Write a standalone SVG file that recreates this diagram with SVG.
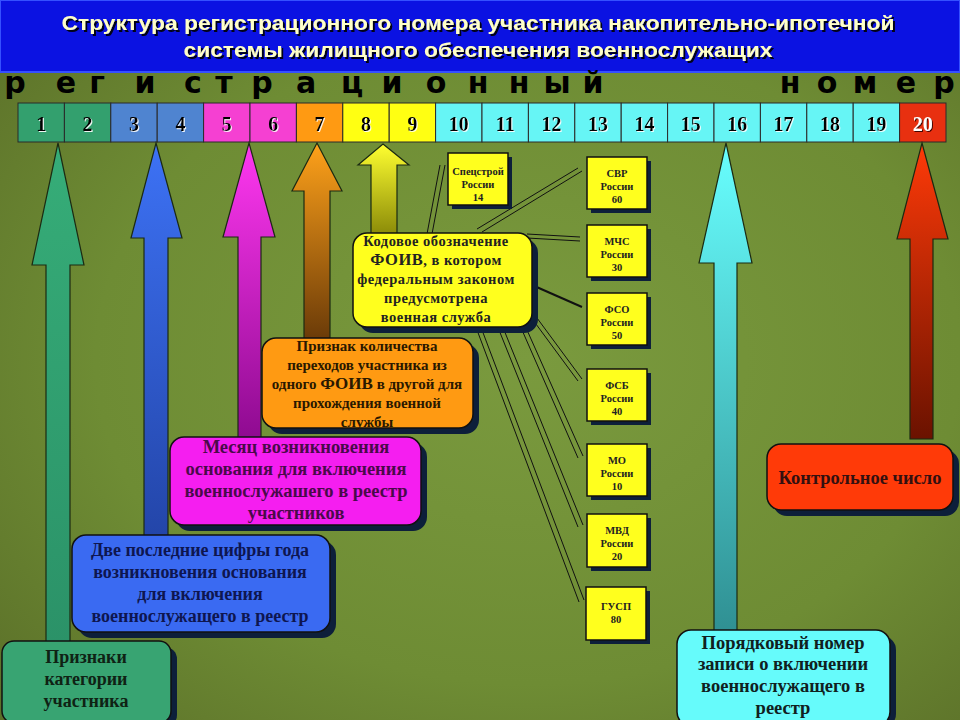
<svg xmlns="http://www.w3.org/2000/svg" width="960" height="720" viewBox="0 0 960 720">
<defs>
<radialGradient id="bg" cx="0.55" cy="0.5" r="0.75">
<stop offset="0" stop-color="#7a9a3e"/>
<stop offset="0.6" stop-color="#6e8c34"/>
<stop offset="1" stop-color="#5a6e28"/>
</radialGradient>
<linearGradient id="gGreen" x1="0" y1="0" x2="0" y2="1"><stop offset="0" stop-color="#36ad78"/><stop offset="1" stop-color="#2b9268"/></linearGradient>
<linearGradient id="gBlue" x1="0" y1="0" x2="0" y2="1"><stop offset="0" stop-color="#3d72f5"/><stop offset="1" stop-color="#2345a8"/></linearGradient>
<linearGradient id="gMag" x1="0" y1="0" x2="0" y2="1"><stop offset="0" stop-color="#ff38f0"/><stop offset="1" stop-color="#8e0a90"/></linearGradient>
<linearGradient id="gOr" x1="0" y1="0" x2="0" y2="1"><stop offset="0" stop-color="#ffa21a"/><stop offset="1" stop-color="#6a3a08"/></linearGradient>
<linearGradient id="gYel" x1="0" y1="0" x2="0" y2="1"><stop offset="0" stop-color="#ffff30"/><stop offset="1" stop-color="#8a8a08"/></linearGradient>
<linearGradient id="gCyan" x1="0" y1="0" x2="0" y2="1"><stop offset="0" stop-color="#68ffff"/><stop offset="1" stop-color="#2f8f92"/></linearGradient>
<linearGradient id="gRed" x1="0" y1="0" x2="0" y2="1"><stop offset="0" stop-color="#ff3a08"/><stop offset="1" stop-color="#6a1200"/></linearGradient>
<filter id="tshadow" x="-5%" y="-30%" width="110%" height="160%"><feDropShadow dx="2" dy="2" stdDeviation="0.4" flood-color="#000" flood-opacity="0.9"/></filter>
<filter id="wshadow" x="-30%" y="-30%" width="160%" height="160%"><feDropShadow dx="1" dy="1" stdDeviation="0.2" flood-color="#fff" flood-opacity="0.9"/></filter>
<filter id="dshadow" x="-30%" y="-30%" width="160%" height="160%"><feDropShadow dx="1" dy="1" stdDeviation="0.2" flood-color="#300" flood-opacity="0.9"/></filter>
<style>
.title{font-family:"Liberation Sans",Arial,sans-serif;font-weight:bold;font-size:20.5px;text-anchor:middle;fill:#ffffc8;filter:url(#tshadow)}
.letters{font-family:"DejaVu Sans","Liberation Sans",sans-serif;font-weight:bold;font-size:30px;fill:#000;text-anchor:middle}
.cell{stroke:#2a2a2a;stroke-width:1}
.num{font-family:"Liberation Serif","Times New Roman",serif;font-weight:bold;font-size:20px;text-anchor:middle;fill:#000;filter:url(#wshadow)}
.num20{font-family:"Liberation Serif","Times New Roman",serif;font-weight:bold;font-size:20px;text-anchor:middle;fill:#fff;filter:url(#dshadow)}
.arrow{stroke:#1b2a12;stroke-width:1.2}
.shadow{fill:#0d1f3a}
.box{stroke:#111;stroke-width:1.5}
.t{font-family:"Liberation Serif","Times New Roman",serif;font-weight:bold;text-anchor:middle}
.sm{font-family:"Liberation Serif","Times New Roman",serif;font-weight:bold;font-size:10.5px;text-anchor:middle;fill:#222}
.ln{stroke:#111;stroke-width:1;fill:none}
</style>
</defs>
<rect width="960" height="720" fill="url(#bg)"/>
<g id="title">
<rect x="0" y="0" width="960" height="72" fill="#0b12e2" stroke="#3550ff" stroke-width="2"/>
<text class="title" x="478" y="30" textLength="833" lengthAdjust="spacingAndGlyphs">Структура регистрационного номера участника накопительно-ипотечной</text>
<text class="title" x="478" y="57" textLength="589" lengthAdjust="spacingAndGlyphs">системы жилищного обеспечения военнослужащих</text>
</g>
<g id="heading-letters">
<text class="letters" y="93" x="15 66 97 145 193 224 262 306 352 392 436 478 519 557 593">регистрационный</text>
<text class="letters" y="93" x="790 827 865 906 944">номер</text>
</g>
<g id="number-row">
<g id="cell-1"><rect class="cell" x="18" y="103" width="46.4" height="39" fill="#33a06e"/><text class="num" x="41.2" y="131">1</text></g>
<g id="cell-2"><rect class="cell" x="64.4" y="103" width="46.4" height="39" fill="#33a06e"/><text class="num" x="87.6" y="131">2</text></g>
<g id="cell-3"><rect class="cell" x="110.8" y="103" width="46.4" height="39" fill="#4f84d0"/><text class="num" x="134" y="131">3</text></g>
<g id="cell-4"><rect class="cell" x="157.2" y="103" width="46.4" height="39" fill="#4f84d0"/><text class="num" x="180.4" y="131">4</text></g>
<g id="cell-5"><rect class="cell" x="203.6" y="103" width="46.4" height="39" fill="#f540d2"/><text class="num" x="226.8" y="131">5</text></g>
<g id="cell-6"><rect class="cell" x="250" y="103" width="46.4" height="39" fill="#f540d2"/><text class="num" x="273.2" y="131">6</text></g>
<g id="cell-7"><rect class="cell" x="296.4" y="103" width="46.4" height="39" fill="#ff9a12"/><text class="num" x="319.6" y="131">7</text></g>
<g id="cell-8"><rect class="cell" x="342.8" y="103" width="46.4" height="39" fill="#ffff12"/><text class="num" x="366" y="131">8</text></g>
<g id="cell-9"><rect class="cell" x="389.2" y="103" width="46.4" height="39" fill="#ffff12"/><text class="num" x="412.4" y="131">9</text></g>
<g id="cell-10"><rect class="cell" x="435.6" y="103" width="46.4" height="39" fill="#66f5f5"/><text class="num" x="458.8" y="131">10</text></g>
<g id="cell-11"><rect class="cell" x="482" y="103" width="46.4" height="39" fill="#66f5f5"/><text class="num" x="505.2" y="131">11</text></g>
<g id="cell-12"><rect class="cell" x="528.4" y="103" width="46.4" height="39" fill="#66f5f5"/><text class="num" x="551.6" y="131">12</text></g>
<g id="cell-13"><rect class="cell" x="574.8" y="103" width="46.4" height="39" fill="#66f5f5"/><text class="num" x="598" y="131">13</text></g>
<g id="cell-14"><rect class="cell" x="621.2" y="103" width="46.4" height="39" fill="#66f5f5"/><text class="num" x="644.4" y="131">14</text></g>
<g id="cell-15"><rect class="cell" x="667.6" y="103" width="46.4" height="39" fill="#66f5f5"/><text class="num" x="690.8" y="131">15</text></g>
<g id="cell-16"><rect class="cell" x="714" y="103" width="46.4" height="39" fill="#66f5f5"/><text class="num" x="737.2" y="131">16</text></g>
<g id="cell-17"><rect class="cell" x="760.4" y="103" width="46.4" height="39" fill="#66f5f5"/><text class="num" x="783.6" y="131">17</text></g>
<g id="cell-18"><rect class="cell" x="806.8" y="103" width="46.4" height="39" fill="#66f5f5"/><text class="num" x="830" y="131">18</text></g>
<g id="cell-19"><rect class="cell" x="853.2" y="103" width="46.4" height="39" fill="#66f5f5"/><text class="num" x="876.4" y="131">19</text></g>
<g id="cell-20"><rect class="cell" x="899.6" y="103" width="46.4" height="39" fill="#e83010"/><text class="num20" x="922.8" y="131">20</text></g>
</g>
<g id="connectors">
<polygon class="arrow" fill="url(#gGreen)" points="58,143 84,265 70,265 70,645 46,645 46,265 32,265"/>
<polygon class="arrow" fill="url(#gBlue)" points="156,143 182,238 168,238 168,540 144,540 144,238 131,238"/>
<polygon class="arrow" fill="url(#gMag)" points="249,143 275,237 261,237 261,440 238,440 238,237 223,237"/>
<polygon class="arrow" fill="url(#gOr)" points="317,143 342,191 330,191 330,340 304,340 304,191 292,191"/>
<polygon class="arrow" fill="url(#gYel)" points="383,144 409,165 397,165 397,235 371,235 371,165 358,165"/>
<polygon class="arrow" fill="url(#gCyan)" points="726,143 752,263 737,263 737,635 714,635 714,263 699,263"/>
<polygon class="arrow" fill="url(#gRed)" points="922,143 948,239 933,239 933,439 910,439 910,239 897,239"/>
<path class="ln" d="M440,165 L427,234 M445,165 L432,234"/>
<path class="ln" d="M477,229 L578,168 M482,232 L582,171"/>
<path class="ln" d="M527,234 L580,237 M527,238 L580,241"/>
<path class="ln" style="stroke-width:2" d="M532,285 L582,307"/>
<path class="ln" d="M533,320 L578,381 M537,318 L582,379"/>
<path class="ln" d="M522,330 L578,458 M527,330 L583,456"/>
<path class="ln" d="M499,330 L578,527 M504,330 L583,525"/>
<path class="ln" d="M477,330 L579,602 M482,330 L584,600"/>
</g>
<g id="box-foiv-code">
<rect class="shadow" x="359" y="239" width="179" height="94" rx="14"/>
<rect class="box" x="353" y="233" width="179" height="94" rx="14" fill="#ffff1e"/>
<text class="t" font-size="14.5" letter-spacing="0.5" fill="#222" x="436" y="246">Кодовое обозначение</text>
<text class="t" font-size="14.5" letter-spacing="0.5" fill="#222" x="436" y="265"><tspan font-size="16.5">ФОИВ</tspan>, в котором</text>
<text class="t" font-size="14.5" letter-spacing="0.5" fill="#222" x="436" y="284">федеральным законом</text>
<text class="t" font-size="14.5" letter-spacing="0.5" fill="#222" x="436" y="303">предусмотрена</text>
<text class="t" font-size="14.5" letter-spacing="0.5" fill="#222" x="436" y="322">военная служба</text>
</g>
<g id="box-transfers">
<rect class="shadow" x="268" y="344" width="211" height="90" rx="14"/>
<rect class="box" x="262" y="338" width="211" height="90" rx="14" fill="#ff9a12"/>
<text class="t" font-size="15" fill="#2a1800" x="367" y="351">Признак количества</text>
<text class="t" font-size="15" fill="#2a1800" x="367" y="370">переходов участника из</text>
<text class="t" font-size="15" fill="#2a1800" x="367" y="389">одного <tspan font-size="17">ФОИВ</tspan> в другой для</text>
<text class="t" font-size="15" fill="#2a1800" x="367" y="408">прохождения военной</text>
<text class="t" font-size="15" fill="#2a1800" x="367" y="427">службы</text>
</g>
<g id="box-month">
<rect class="shadow" x="176" y="443" width="251" height="88" rx="14"/>
<rect class="box" x="170" y="437" width="251" height="88" rx="14" fill="#f51ef0"/>
<text class="t" font-size="18.5" fill="#4a0a4a" x="296" y="453">Месяц возникновения</text>
<text class="t" font-size="18.5" fill="#4a0a4a" x="296" y="475">основания для включения</text>
<text class="t" font-size="18.5" fill="#4a0a4a" x="296" y="497">военнослужашего в реестр</text>
<text class="t" font-size="18.5" fill="#4a0a4a" x="296" y="519">участников</text>
</g>
<g id="box-year">
<rect class="shadow" x="78" y="541" width="258" height="97" rx="14"/>
<rect class="box" x="72" y="535" width="258" height="97" rx="14" fill="#3a6af2"/>
<text class="t" font-size="18" fill="#0e1650" x="200" y="556">Две последние цифры года</text>
<text class="t" font-size="18" fill="#0e1650" x="200" y="578">возникновения основания</text>
<text class="t" font-size="18" fill="#0e1650" x="200" y="600">для включения</text>
<text class="t" font-size="18" fill="#0e1650" x="200" y="622">военнослужащего в реестр</text>
</g>
<g id="box-category">
<rect class="shadow" x="8" y="647" width="169" height="80" rx="12"/>
<rect class="box" x="2" y="641" width="169" height="82" rx="12" fill="#38a472"/>
<text class="t" font-size="18" fill="#0f2214" x="86" y="663">Признаки</text>
<text class="t" font-size="18" fill="#0f2214" x="86" y="685">категории</text>
<text class="t" font-size="18" fill="#0f2214" x="86" y="707">участника</text>
</g>
<g id="box-control">
<rect class="shadow" x="773" y="450" width="186" height="66" rx="14"/>
<rect class="box" x="767" y="444" width="186" height="66" rx="14" fill="#ff3a08"/>
<text class="t" font-size="18.5" fill="#331010" x="860" y="484">Контрольное число</text>
</g>
<g id="box-serial">
<rect class="shadow" x="683" y="636" width="213" height="92" rx="14"/>
<rect class="box" x="677" y="630" width="213" height="96" rx="14" fill="#66fbfb"/>
<text class="t" font-size="18.5" fill="#102020" x="783" y="649">Порядковый номер</text>
<text class="t" font-size="18.5" fill="#102020" x="783" y="670">записи о включении</text>
<text class="t" font-size="18.5" fill="#102020" x="783" y="692">военнослужащего в</text>
<text class="t" font-size="18.5" fill="#102020" x="783" y="714">реестр</text>
</g>
<g id="box-specstroy">
<rect class="shadow" x="452" y="157" width="60" height="52"/>
<rect class="box" x="448" y="153" width="60" height="52" fill="#ffff1e"/>
<text class="sm" x="478" y="175">Спецстрой</text><text class="sm" x="478" y="188">России</text><text class="sm" x="478" y="201">14</text>
</g>
<g id="box-svr">
<rect class="shadow" x="591" y="161" width="60" height="52"/>
<rect class="box" x="587" y="157" width="60" height="52" fill="#ffff1e"/>
<text class="sm" x="617" y="177">СВР</text><text class="sm" x="617" y="190">России</text><text class="sm" x="617" y="203">60</text>
</g>
<g id="box-mchs">
<rect class="shadow" x="591" y="229" width="60" height="52"/>
<rect class="box" x="587" y="225" width="60" height="52" fill="#ffff1e"/>
<text class="sm" x="617" y="245">МЧС</text><text class="sm" x="617" y="258">России</text><text class="sm" x="617" y="271">30</text>
</g>
<g id="box-fso">
<rect class="shadow" x="591" y="297" width="60" height="52"/>
<rect class="box" x="587" y="293" width="60" height="52" fill="#ffff1e"/>
<text class="sm" x="617" y="313">ФСО</text><text class="sm" x="617" y="326">России</text><text class="sm" x="617" y="339">50</text>
</g>
<g id="box-fsb">
<rect class="shadow" x="591" y="373" width="60" height="52"/>
<rect class="box" x="587" y="369" width="60" height="52" fill="#ffff1e"/>
<text class="sm" x="617" y="389">ФСБ</text><text class="sm" x="617" y="402">России</text><text class="sm" x="617" y="415">40</text>
</g>
<g id="box-mo">
<rect class="shadow" x="591" y="448" width="60" height="52"/>
<rect class="box" x="587" y="444" width="60" height="52" fill="#ffff1e"/>
<text class="sm" x="617" y="464">МО</text><text class="sm" x="617" y="477">России</text><text class="sm" x="617" y="490">10</text>
</g>
<g id="box-mvd">
<rect class="shadow" x="591" y="518" width="60" height="53"/>
<rect class="box" x="587" y="514" width="60" height="53" fill="#ffff1e"/>
<text class="sm" x="617" y="534">МВД</text><text class="sm" x="617" y="547">России</text><text class="sm" x="617" y="560">20</text>
</g>
<g id="box-gusp">
<rect class="shadow" x="590" y="591" width="60" height="53"/>
<rect class="box" x="586" y="587" width="60" height="53" fill="#ffff1e"/>
<text class="sm" x="616" y="610">ГУСП</text><text class="sm" x="616" y="623">80</text>
</g>
</svg>
